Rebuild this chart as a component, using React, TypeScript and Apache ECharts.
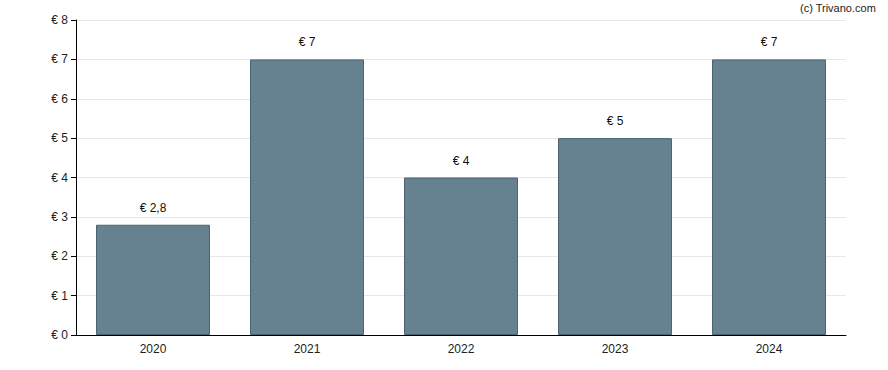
import React, { useEffect, useRef } from "react";
import * as echarts from "echarts";

const categories = ["2020", "2021", "2022", "2023", "2024"];
const values = [2.8, 7, 4, 5, 7];
const yTicks = [0, 1, 2, 3, 4, 5, 6, 7, 8];

const fmt = (v: number) => "€ " + String(v).replace(".", ",");

export default function App() {
  const ref = useRef<HTMLDivElement>(null);
  useEffect(() => {
    const chart = echarts.init(ref.current!, null, { renderer: "svg" });
    chart.setOption({
      animation: false,
      textStyle: { fontFamily: "Liberation Sans, Arial, sans-serif" },
      graphic: [
        {
          type: "text",
          right: 12,
          top: 2,
          style: { text: "(c) Trivano.com", fontSize: 11, fill: "#222", fontFamily: "Liberation Sans, Arial, sans-serif" },
        },
      ],
      grid: { left: 76, right: 42, top: 20, bottom: 35 },
      xAxis: {
        type: "category",
        data: categories,
        axisLine: { lineStyle: { color: "#000", width: 1 } },
        axisTick: { alignWithLabel: true, length: 4, lineStyle: { color: "#000" } },
        axisLabel: { color: "#222", fontSize: 12, margin: 8 },
      },
      yAxis: {
        type: "value",
        min: yTicks[0],
        max: yTicks[yTicks.length - 1],
        interval: 1,
        axisLine: { show: true, lineStyle: { color: "#000", width: 1 } },
        axisTick: { show: true, length: 5, lineStyle: { color: "#000" } },
        axisLabel: { color: "#222", fontSize: 12, margin: 8, formatter: (v: number) => fmt(v) },
        splitLine: { lineStyle: { color: "#e6e6e6" } },
      },
      series: [
        {
          type: "bar",
          data: values,
          barCategoryGap: "26%",
          itemStyle: { color: "#66818f", borderColor: "#4a6272", borderWidth: 1 },
          label: {
            show: true,
            position: "top",
            distance: 11,
            color: "#111",
            fontSize: 12,
            formatter: (p: any) => fmt(p.value),
          },
        },
      ],
    });
    return () => chart.dispose();
  }, []);
  return <div ref={ref} style={{ width: 888, height: 370, position: "absolute", left: 0, top: 0 }} />;
}
